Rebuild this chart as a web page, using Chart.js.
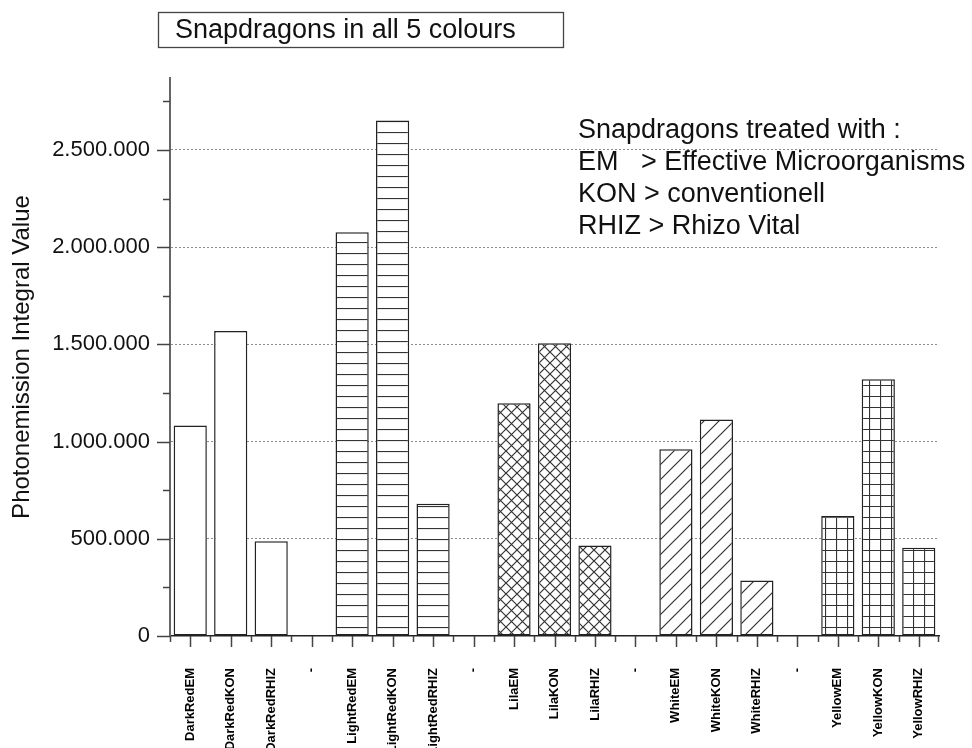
<!DOCTYPE html>
<html>
<head>
<meta charset="utf-8">
<script src="https://cdn.jsdelivr.net/npm/chart.js@4.4.0/dist/chart.umd.min.js"></script>
<style>
  html, body { margin: 0; padding: 0; background: #fff; overflow: hidden; }
  #wrap { position: relative; width: 972px; height: 748px; }
</style>
</head>
<body>
<div id="wrap"><canvas id="chart" width="972" height="748"></canvas></div>
<script>
// Photonemission integral values per snapdragon colour / treatment ("-" = gap between groups)
const categories = [
  "DarkRedEM", "DarkRedKON", "DarkRedRHIZ", "-",
  "LightRedEM", "LightRedKON", "LightRedRHIZ", "-",
  "LilaEM", "LilaKON", "LilaRHIZ", "-",
  "WhiteEM", "WhiteKON", "WhiteRHIZ", "-",
  "YellowEM", "YellowKON", "YellowRHIZ"
];
const values = [
  1083000, 1569000, 487000, null,
  2076000, 2652000, 680000, null,
  1197000, 1506000, 466000, null,
  961000, 1114000, 286000, null,
  617000, 1321000, 454000
];
// fill style of each colour group
const fills = [
  "plain", "plain", "plain", null,
  "hlines", "hlines", "hlines", null,
  "cross", "cross", "cross", null,
  "diag", "diag", "diag", null,
  "grid", "grid", "grid"
];
// labelled (major) ticks and unlabelled minor ticks
const yTicks = [0, 500000, 1000000, 1500000, 2000000, 2500000];
const yMinorTicks = [250000, 750000, 1250000, 1750000, 2250000, 2750000];
const yMax = 2870000;

const chartTitle = "Snapdragons in all 5 colours";
const yTitle = "Photonemission Integral Value";
const note = [
  "Snapdragons treated with :",
  "EM   > Effective Microorganisms",
  "KON > conventionell",
  "RHIZ > Rhizo Vital"
];

Chart.defaults.font.family = "'Liberation Sans', Arial, sans-serif";
Chart.defaults.color = "#111";

const canvas = document.getElementById("chart");
const ctx = canvas.getContext("2d");

function makePattern(kind) {
  if (kind === "plain") return "#fff";
  const s = kind === "diag" ? 15 : 11;
  const c = document.createElement("canvas");
  c.width = s; c.height = s;
  const g = c.getContext("2d");
  g.fillStyle = "#fff";
  g.fillRect(0, 0, s, s);
  g.strokeStyle = "#333";
  g.lineWidth = 1.2;
  g.beginPath();
  if (kind === "hlines") {
    g.moveTo(0, 0.5); g.lineTo(s, 0.5);
  } else if (kind === "cross") {
    g.moveTo(0, 0); g.lineTo(s, s);
    g.moveTo(s, 0); g.lineTo(0, s);
  } else if (kind === "diag") {
    g.moveTo(0, s); g.lineTo(s, 0);
    g.moveTo(-2, 2); g.lineTo(2, -2);
    g.moveTo(s - 2, s + 2); g.lineTo(s + 2, s - 2);
  } else if (kind === "grid") {
    g.moveTo(0, 0.5); g.lineTo(s, 0.5);
    g.moveTo(0.5, 0); g.lineTo(0.5, s);
  }
  g.stroke();
  return ctx.createPattern(c, "repeat");
}

const patterns = {};
["plain", "hlines", "cross", "diag", "grid"].forEach(k => { patterns[k] = makePattern(k); });

const fmt = v => String(v).replace(/\B(?=(\d{3})+(?!\d))/g, ".");
const isMajor = v => yTicks.includes(Math.round(v));

// major / minor tick marks drawn outside the axes
const tickMarks = {
  id: "tickMarks",
  afterDraw(chart) {
    const { ctx, scales: { x, y }, chartArea: a } = chart;
    ctx.save();
    ctx.strokeStyle = "#444";
    ctx.lineWidth = 1.5;
    ctx.beginPath();
    y.ticks.forEach(t => {
      const py = Math.round(y.getPixelForValue(t.value)) + 0.5;
      const len = isMajor(t.value) ? 13 : 7;
      ctx.moveTo(a.left - len, py);
      ctx.lineTo(a.left, py);
    });
    const step = x.getPixelForValue(1) - x.getPixelForValue(0);
    categories.forEach((c, i) => {
      const px = Math.round(x.getPixelForValue(i)) + 0.5;
      ctx.moveTo(px, a.bottom); ctx.lineTo(px, a.bottom + 11);
      const bx = Math.round(x.getPixelForValue(i) - step / 2) + 0.5;
      ctx.moveTo(bx, a.bottom); ctx.lineTo(bx, a.bottom + 6);
    });
    const rx = Math.round(a.right) - 0.5;
    ctx.moveTo(rx, a.bottom); ctx.lineTo(rx, a.bottom + 6);
    ctx.stroke();
    ctx.restore();
  }
};

// boxed title and the treatment note
const texts = {
  id: "texts",
  afterDraw(chart) {
    const { ctx } = chart;
    ctx.save();
    ctx.strokeStyle = "#444";
    ctx.lineWidth = 1.3;
    ctx.strokeRect(158.5, 12.5, 405, 35);
    ctx.fillStyle = "#111";
    ctx.textBaseline = "middle";
    ctx.textAlign = "left";
    ctx.font = "27px 'Liberation Sans', Arial, sans-serif";
    ctx.fillText(chartTitle, 175, 31);
    note.forEach((line, i) => ctx.fillText(line, 578, 131 + i * 31.7));
    ctx.restore();
  }
};

new Chart(ctx, {
  type: "bar",
  data: {
    labels: categories,
    datasets: [{
      data: values,
      backgroundColor: fills.map(f => f ? patterns[f] : "#fff"),
      borderColor: "#222",
      borderWidth: 1.5,
      borderSkipped: false,
      categoryPercentage: 1,
      barPercentage: 0.82
    }]
  },
  options: {
    responsive: false,
    animation: false,
    layout: { padding: { top: 78, right: 33, left: 0, bottom: 0 } },
    plugins: {
      legend: { display: false },
      tooltip: { enabled: false }
    },
    scales: {
      x: {
        offset: true,
        grid: { display: false, drawTicks: false },
        border: { color: "#222", width: 1.5 },
        ticks: {
          autoSkip: false,
          minRotation: 90,
          maxRotation: 90,
          padding: 32,
          color: "#000",
          font: { size: 13, weight: "bold" }
        },
        afterFit(s) { s.height = 112; }
      },
      y: {
        min: 0,
        max: yMax,
        afterBuildTicks(s) {
          s.ticks = yTicks.concat(yMinorTicks).sort((p, q) => p - q).map(v => ({ value: v }));
        },
        ticks: {
          autoSkip: false,
          padding: 20,
          color: "#111",
          font: { size: 22 },
          callback: v => isMajor(v) ? fmt(Math.round(v)) : ""
        },
        grid: {
          drawTicks: false,
          lineWidth: 1,
          color: c => (c.tick && c.tick.value > 0 && isMajor(c.tick.value)) ? "#8c8c8c" : "rgba(0,0,0,0)"
        },
        border: { color: "#666", width: 2, dash: [2, 2] },
        title: {
          display: true,
          text: yTitle,
          color: "#111",
          font: { size: 24 },
          padding: { top: 8, bottom: 0 }
        },
        afterFit(s) { s.width = 170; }
      }
    }
  },
  plugins: [tickMarks, texts]
});
</script>
</body>
</html>
